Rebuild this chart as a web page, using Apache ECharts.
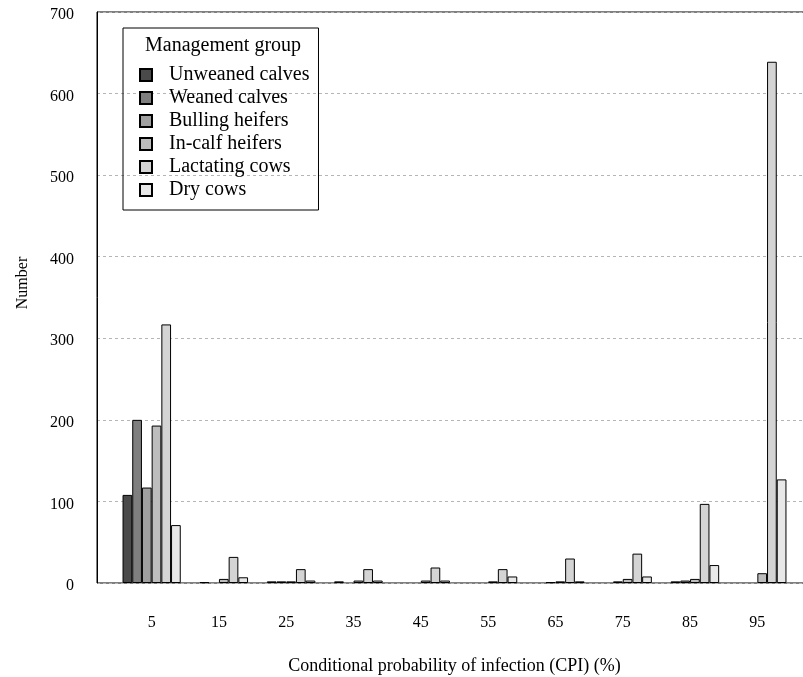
<!DOCTYPE html>
<html>
<head>
<meta charset="utf-8">
<script src="https://cdn.jsdelivr.net/npm/echarts@6.0.0/dist/echarts.min.js"></script>
<style>
  html, body { margin: 0; padding: 0; background: #fff; }
  #main { width: 803px; height: 677px; }
</style>
</head>
<body>
<div id="main"></div>
<script>
// CPI categories (%)
var categories = ["5", "15", "25", "35", "45", "55", "65", "75", "85", "95"];

// counts per management group
var unweanedCalves = [108, 0, 0, 0, 0, 0, 0, 0, 0, 0];
var weanedCalves   = [200, 1, 2, 2, 0, 0, 0, 0, 2, 0];
var bullingHeifers = [117, 0, 2, 0, 0, 0, 1, 2, 3, 0];
var inCalfHeifers  = [193, 5, 2, 3, 3, 2, 2, 5, 5, 12];
var lactatingCows  = [317, 32, 17, 17, 19, 17, 30, 36, 97, 639];
var dryCows        = [71, 7, 3, 3, 3, 8, 2, 8, 22, 127];

var yTicks = [0, 100, 200, 300, 400, 500, 600, 700];

var groups = [
  { name: "Unweaned calves", data: unweanedCalves, color: "#4a4a4a" },
  { name: "Weaned calves",   data: weanedCalves,   color: "#7f7f7f" },
  { name: "Bulling heifers", data: bullingHeifers, color: "#a0a0a0" },
  { name: "In-calf heifers", data: inCalfHeifers,  color: "#bdbdbd" },
  { name: "Lactating cows",  data: lactatingCows,  color: "#d4d4d4" },
  { name: "Dry cows",        data: dryCows,        color: "#e8e8e8" }
];

var font = "'Liberation Serif', 'Times New Roman', serif";

var myChart = echarts.init(document.getElementById("main"));

var option = {
  backgroundColor: "#fff",
  animation: false,
  textStyle: { fontFamily: font, color: "#000" },
  title: {
    text: "Management group",
    left: 145,
    top: 36,
    padding: 0,
    textStyle: { fontFamily: font, fontSize: 20, fontWeight: "normal", color: "#000" }
  },
  legend: {
    orient: "vertical",
    left: 123,
    top: 28,
    padding: [37, 9, 10, 16],
    itemWidth: 12,
    itemHeight: 12,
    itemGap: 3,
    icon: "rect",
    borderColor: "#000",
    borderWidth: 1,
    textStyle: { fontFamily: font, fontSize: 20, lineHeight: 20, color: "#000", padding: [0, 0, 0, 12] },
    data: groups.map(function (g) { return g.name; })
  },
  grid: [
    // frame + gridlines
    { left: 97, top: 12, right: -6, bottom: 94, outerBoundsMode: "none", containLabel: false,
      show: true, borderColor: "#000", borderWidth: 1 },
    // bars
    { left: 118, top: 12, right: 12, bottom: 94, outerBoundsMode: "none", containLabel: false }
  ],
  xAxis: [
    { gridIndex: 0, type: "category", data: categories, show: false },
    {
      gridIndex: 1,
      type: "category",
      data: categories,
      axisLine: { show: false },
      axisTick: { show: false },
      axisLabel: { fontFamily: font, fontSize: 16, color: "#000", margin: 32 },
      name: "Conditional probability of infection (CPI) (%)",
      nameLocation: "middle",
      nameGap: 74,
      nameTextStyle: { fontFamily: font, fontSize: 18, color: "#000" }
    }
  ],
  yAxis: [
    {
      gridIndex: 0,
      type: "value",
      min: yTicks[0],
      max: yTicks[yTicks.length - 1],
      interval: 100,
      axisLine: { show: true, lineStyle: { color: "#000", width: 1 } },
      axisTick: { show: false },
      axisLabel: { fontFamily: font, fontSize: 16, color: "#000", margin: 23,
        verticalAlign: "top", lineHeight: 6 },
      splitLine: { show: true, lineStyle: { color: "#b5b5b5", type: [3, 3], width: 1 } },
      name: "Number",
      nameLocation: "middle",
      nameGap: 66,
      nameRotate: 90,
      nameTextStyle: { fontFamily: font, fontSize: 16, color: "#000", padding: [0, 0, 0, 29] }
    },
    {
      gridIndex: 1,
      type: "value",
      min: yTicks[0],
      max: yTicks[yTicks.length - 1],
      show: false,
      splitLine: { show: false }
    }
  ],
  series: groups.map(function (g) {
    return {
      name: g.name,
      type: "bar",
      xAxisIndex: 1,
      yAxisIndex: 1,
      barGap: "0%",
      barCategoryGap: "13.5%",
      itemStyle: { color: g.color, borderColor: "#000", borderWidth: 1 },
      // empty cells are simply not drawn
      data: g.data.map(function (v) { return v === 0 ? "-" : v; })
    };
  })
};

myChart.setOption(option);
</script>
</body>
</html>
